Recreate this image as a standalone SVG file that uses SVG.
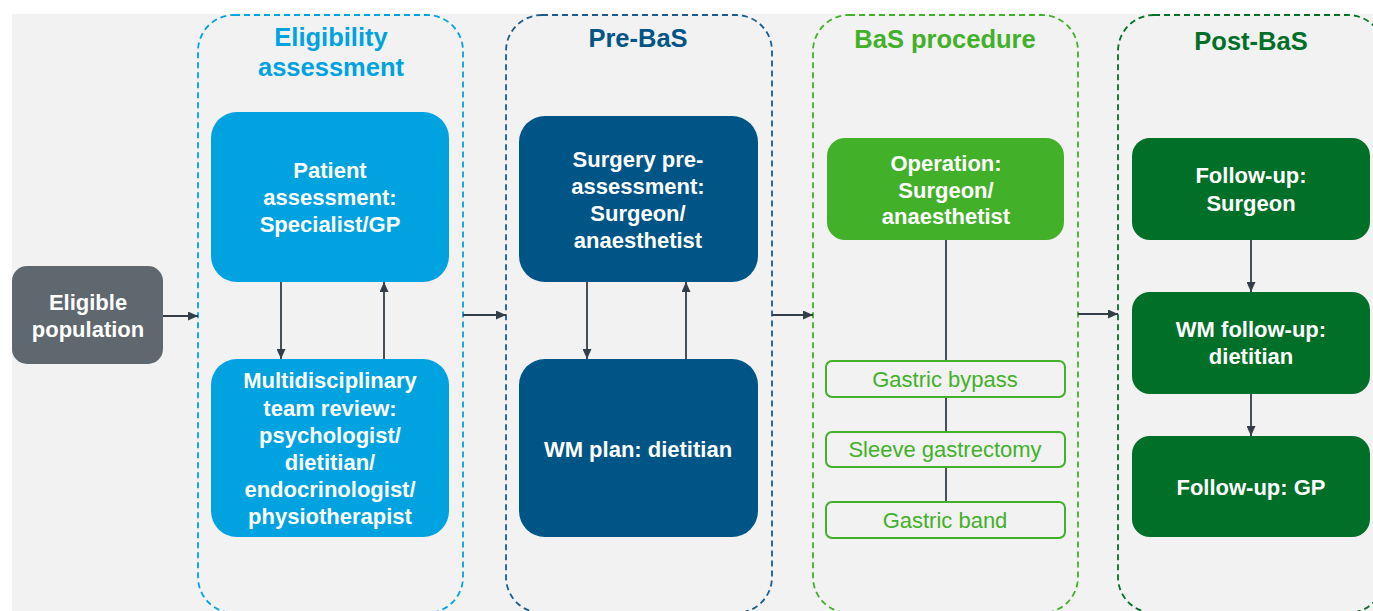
<svg xmlns="http://www.w3.org/2000/svg" width="1373" height="611" viewBox="0 0 1373 611">
  <defs>
    <marker id="ah" markerWidth="10" markerHeight="9" refX="10" refY="4.5" orient="auto" markerUnits="userSpaceOnUse">
      <path d="M0,0 L10,4.5 L0,9 Z" fill="#333e48"/>
    </marker>
    <style>
      .lane { fill: none; stroke-width: 1.8; stroke-dasharray: 6 4; }
      .title { font-family: "Liberation Sans", Arial, sans-serif; font-weight: bold; font-size: 25.5px; text-anchor: middle; }
      .nt { font-family: "Liberation Sans", Arial, sans-serif; font-weight: bold; font-size: 22px; fill: #ffffff; text-anchor: middle; }
      .gt { font-family: "Liberation Sans", Arial, sans-serif; font-size: 22px; fill: #43b02a; text-anchor: middle; }
      .gbox { fill: #f2f2f2; stroke: #43b02a; stroke-width: 2; }
      .conn { fill: none; stroke: #333e48; stroke-width: 1.8; }
      .arr { marker-end: url(#ah); }
    </style>
  </defs>

  <rect x="0" y="0" width="1373" height="611" fill="#ffffff"/>
  <rect x="12" y="14" width="1361" height="597" fill="#f2f2f2"/>

  <!-- Swimlanes -->
  <g id="lane-eligibility">
    <rect class="lane" x="198" y="15" width="265" height="598" rx="36" ry="36" stroke="#00a3e0"/>
    <text class="title" x="331" y="46" fill="#00a3e0">Eligibility</text>
    <text class="title" x="331" y="76" fill="#00a3e0">assessment</text>
  </g>
  <g id="lane-prebas">
    <rect class="lane" x="506" y="15" width="266" height="598" rx="36" ry="36" stroke="#1b5c8e"/>
    <text class="title" x="638" y="47" fill="#005587">Pre-BaS</text>
  </g>
  <g id="lane-bas">
    <rect class="lane" x="813" y="15" width="265" height="598" rx="36" ry="36" stroke="#43b02a"/>
    <text class="title" x="945" y="48" fill="#43b02a">BaS procedure</text>
  </g>
  <g id="lane-postbas">
    <rect class="lane" x="1118" y="15" width="266" height="598" rx="36" ry="36" stroke="#006f27"/>
    <text class="title" x="1251" y="50" fill="#006f27">Post-BaS</text>
  </g>

  <!-- Connectors -->
  <g id="connectors">
    <line class="conn arr" x1="163" y1="316" x2="198" y2="316"/>
    <line class="conn arr" x1="463" y1="315" x2="506" y2="315"/>
    <line class="conn arr" x1="772" y1="315" x2="813" y2="315"/>
    <line class="conn arr" x1="1078" y1="314" x2="1118" y2="314"/>
    <line class="conn arr" x1="281" y1="282" x2="281" y2="359"/>
    <line class="conn arr" x1="384" y1="359" x2="384" y2="282"/>
    <line class="conn arr" x1="587" y1="282" x2="587" y2="359"/>
    <line class="conn arr" x1="686" y1="359" x2="686" y2="282"/>
    <line class="conn" x1="946" y1="240" x2="946" y2="361"/>
    <line class="conn" x1="946" y1="397" x2="946" y2="432"/>
    <line class="conn" x1="946" y1="467" x2="946" y2="502"/>
    <line class="conn arr" x1="1251" y1="240" x2="1251" y2="292"/>
    <line class="conn arr" x1="1251" y1="394" x2="1251" y2="436"/>
  </g>

  <!-- Nodes -->
  <g id="node-eligible-population">
    <rect x="12" y="266" width="151" height="98" rx="15" fill="#5e686e"/>
    <text class="nt" x="88" y="310">Eligible</text>
    <text class="nt" x="88" y="337">population</text>
  </g>

  <g id="node-patient-assessment">
    <rect x="211" y="112" width="238" height="170" rx="26" fill="#00a3e0"/>
    <text class="nt" x="330" y="178">Patient</text>
    <text class="nt" x="330" y="205">assessment:</text>
    <text class="nt" x="330" y="232">Specialist/GP</text>
  </g>

  <g id="node-mdt-review">
    <rect x="211" y="359" width="238" height="178" rx="26" fill="#00a3e0"/>
    <text class="nt" x="330" y="388">Multidisciplinary</text>
    <text class="nt" x="330" y="416">team review:</text>
    <text class="nt" x="330" y="443">psychologist/</text>
    <text class="nt" x="330" y="470">dietitian/</text>
    <text class="nt" x="330" y="497">endocrinologist/</text>
    <text class="nt" x="330" y="524">physiotherapist</text>
  </g>

  <g id="node-surgery-preassessment">
    <rect x="519" y="116" width="239" height="166" rx="26" fill="#005587"/>
    <text class="nt" x="638" y="167">Surgery pre-</text>
    <text class="nt" x="638" y="194">assessment:</text>
    <text class="nt" x="638" y="221">Surgeon/</text>
    <text class="nt" x="638" y="248">anaesthetist</text>
  </g>

  <g id="node-wm-plan">
    <rect x="519" y="359" width="239" height="178" rx="26" fill="#005587"/>
    <text class="nt" x="638" y="457">WM plan: dietitian</text>
  </g>

  <g id="node-operation">
    <rect x="827" y="138" width="237" height="102" rx="18" fill="#43b02a"/>
    <text class="nt" x="946" y="171">Operation:</text>
    <text class="nt" x="946" y="198">Surgeon/</text>
    <text class="nt" x="946" y="224">anaesthetist</text>
  </g>

  <g id="node-gastric-bypass">
    <rect class="gbox" x="826" y="361" width="239" height="36" rx="6"/>
    <text class="gt" x="945" y="387">Gastric bypass</text>
  </g>
  <g id="node-sleeve-gastrectomy">
    <rect class="gbox" x="826" y="432" width="239" height="35" rx="6"/>
    <text class="gt" x="945" y="457">Sleeve gastrectomy</text>
  </g>
  <g id="node-gastric-band">
    <rect class="gbox" x="826" y="502" width="239" height="36" rx="6"/>
    <text class="gt" x="945" y="528">Gastric band</text>
  </g>

  <g id="node-followup-surgeon">
    <rect x="1132" y="138" width="238" height="102" rx="18" fill="#006f27"/>
    <text class="nt" x="1251" y="183">Follow-up:</text>
    <text class="nt" x="1251" y="211">Surgeon</text>
  </g>
  <g id="node-wm-followup">
    <rect x="1132" y="292" width="238" height="102" rx="18" fill="#006f27"/>
    <text class="nt" x="1251" y="337">WM follow-up:</text>
    <text class="nt" x="1251" y="364">dietitian</text>
  </g>
  <g id="node-followup-gp">
    <rect x="1132" y="436" width="238" height="101" rx="18" fill="#006f27"/>
    <text class="nt" x="1251" y="495">Follow-up: GP</text>
  </g>
</svg>
